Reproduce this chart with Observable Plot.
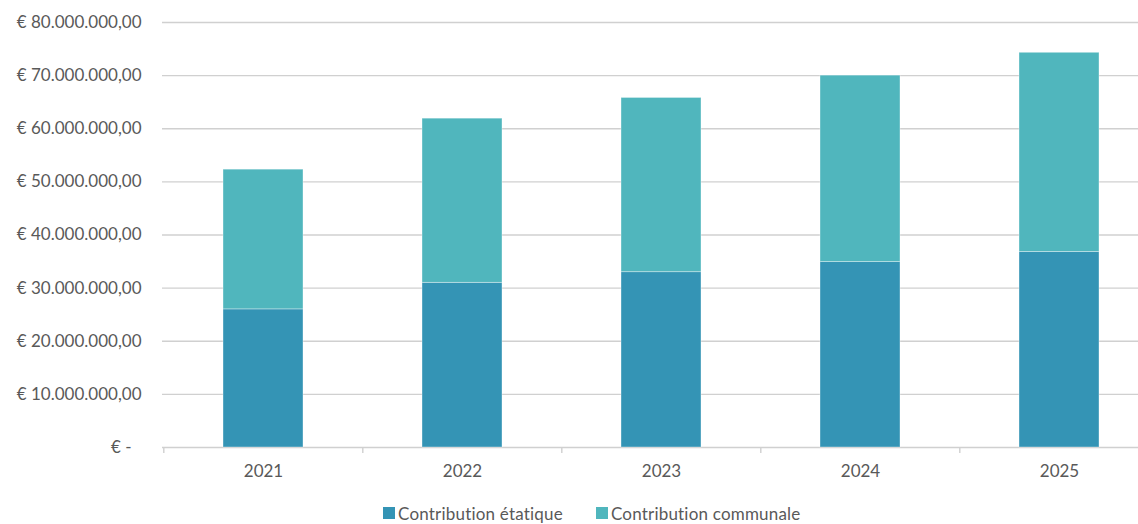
<!DOCTYPE html>
<html>
<head>
<meta charset="utf-8">
<script src="https://cdn.jsdelivr.net/npm/d3@7"></script>
<script src="https://cdn.jsdelivr.net/npm/@observablehq/plot@0.6"></script>
<style>
  html, body { margin: 0; padding: 0; background: #fff; overflow: hidden; }
  body { width: 1138px; height: 524px; font-family: Lato, "Open Sans", sans-serif; }
  #legend { display: flex; align-items: center; height: 20px; margin-left: 383px; margin-top: 13px; font-size: 17px; letter-spacing: 0.2px; color: #595959; }
  .item { display: flex; align-items: center; margin-right: 33px; }
  .sw { width: 12px; height: 12px; margin-right: 3px; }
</style>
</head>
<body>
<div id="chart"></div>
<div id="legend"></div>
<script>
const years = ["2021", "2022", "2023", "2024", "2025"];
const stateValues = [26.0e6, 31.0e6, 33.0e6, 34.9e6, 36.8e6];
const communalValues = [26.3e6, 30.9e6, 32.8e6, 35.1e6, 37.5e6];
const seriesNames = ["Contribution étatique", "Contribution communale"];
const seriesColors = ["#3494b5", "#50b6bd"];
const yTicks = [10e6, 20e6, 30e6, 40e6, 50e6, 60e6, 70e6, 80e6];
const gridTicks = [0, ...yTicks];

const rows = [
  ...years.map((y, i) => ({year: y, series: seriesNames[0], value: stateValues[i]})),
  ...years.map((y, i) => ({year: y, series: seriesNames[1], value: communalValues[i]}))
];

const nf = new Intl.NumberFormat("de-DE", {minimumFractionDigits: 2, maximumFractionDigits: 2});

const chart = Plot.plot({
  width: 1138,
  height: 490,
  marginTop: 22,
  marginBottom: 43,
  marginLeft: 162,
  marginRight: 0,
  style: {fontFamily: "Lato, 'Open Sans', sans-serif", fontSize: "17px", color: "#595959"},
  x: {type: "band", domain: years, range: [162, 1159], paddingInner: 0.6, paddingOuter: 0.3},
  y: {domain: [0, 80e6]},
  color: {domain: seriesNames, range: seriesColors},
  marks: [
    Plot.ruleY(gridTicks, {stroke: "#d0d0d0", strokeWidth: 1.4}),
    Plot.barY(rows, {x: "year", y: "value", fill: "series", stroke: "#ffffff", strokeOpacity: 0.45, strokeWidth: 0.8}),
    Plot.ruleX(years, {x: d => d, dx: -99.7, y1: 0, y2: 0, insetBottom: -6, stroke: "#d0d0d0", strokeWidth: 1.4}),
    Plot.axisX({tickSize: 0, tickPadding: 17, label: null, fill: "#595959"}),
    Plot.axisY(yTicks, {tickSize: 0, tickPadding: 21, label: null, fill: "#595959", tickFormat: d => "€ " + nf.format(d)}),
    Plot.axisY([0], {tickSize: 0, tickPadding: 31, label: null, fill: "#595959", tickFormat: () => "€ -"})
  ]
});
document.getElementById("chart").appendChild(chart);

const legend = document.getElementById("legend");
seriesNames.forEach((name, i) => {
  const item = document.createElement("div");
  item.className = "item";
  const sw = document.createElement("div");
  sw.className = "sw";
  sw.style.background = seriesColors[i];
  const label = document.createElement("span");
  label.textContent = name;
  item.appendChild(sw);
  item.appendChild(label);
  legend.appendChild(item);
});
</script>
</body>
</html>
